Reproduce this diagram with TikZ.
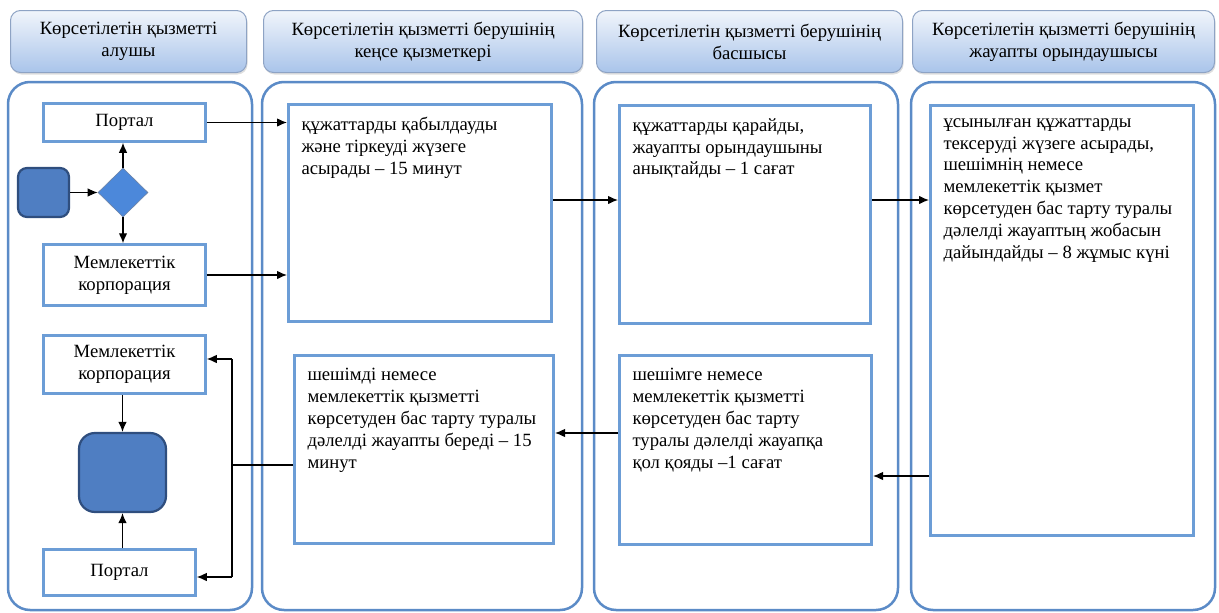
\documentclass[tikz,border=0pt]{standalone}
\usepackage{fontspec}
\setmainfont{Liberation Serif}
\usetikzlibrary{arrows.meta,shapes.geometric,shadows}
\definecolor{linea}{HTML}{5B8BC7}
\definecolor{bordo}{HTML}{6C9DD6}
\definecolor{bordotesta}{HTML}{8EA3C4}
\definecolor{alto}{HTML}{F1F5FB}
\definecolor{basso}{HTML}{A9C4EA}
\definecolor{pieno}{HTML}{4F7EC2}
\definecolor{scuro}{HTML}{2F4E7E}
\definecolor{rombo}{HTML}{4C88DA}
\begin{document}
\begin{tikzpicture}[x=1pt,y=-1pt,>={Latex[length=10pt,width=8.5pt]},
  every node/.style={font=\fontsize{18.7}{21.8}\selectfont},
  testata/.style={draw=bordotesta,line width=1pt,rounded corners=10pt,top color=alto,bottom color=basso,align=center,minimum height=62pt,inner sep=0pt,drop shadow={shadow xshift=1pt,shadow yshift=-2pt,opacity=0.25}},
  corsia/.style={draw=linea,line width=2.5pt,rounded corners=22pt},
  compito/.style={draw=bordo,line width=3pt,fill=white,inner sep=13pt},
  riquadro/.style={draw=bordo,line width=2.5pt,fill=white,align=center,inner sep=0pt},
  blocco/.style={draw=scuro,line width=2.2pt,fill=pieno},
  freccia/.style={->,line width=1.1pt}]
  \useasboundingbox (0,0) rectangle (1219,613);
  %intestazioni
  \node[testata,minimum width=236pt] (h1) at (128.5,41.5) {Көрсетілетін қызметті\\алушы};
  \node[testata,minimum width=319pt] (h2) at (423,41.5) {Көрсетілетін қызметті берушінің\\кеңсе қызметкері};
  \node[testata,minimum width=306pt] (h3) at (749.5,41.5) {Көрсетілетін қызметті берушінің\\басшысы};
  \node[testata,minimum width=302pt] (h4) at (1063.5,41.5) {Көрсетілетін қызметті берушінің\\жауапты орындаушысы};
  %corsie
  \draw[corsia] (8,82) rectangle (252,610);
  \draw[corsia] (262,82) rectangle (582,610);
  \draw[corsia] (594,82) rectangle (898,610);
  \draw[corsia] (911,82) rectangle (1215,610);
  %prima corsia
  \node[riquadro,minimum width=162pt,minimum height=38pt] (portale) at (124.5,122.5) {Портал};
  \node[blocco,rounded corners=9pt,minimum width=51pt,minimum height=49pt] (inizio) at (43.5,192.5) {};
  \node[diamond,draw=scuro!70,fill=rombo,line width=0.6pt,minimum width=50pt,minimum height=49pt,inner sep=0pt] (scelta) at (123,192.5) {};
  \node[riquadro,minimum width=162pt,minimum height=61pt] (corp) at (124.5,275) {Мемлекеттік\\корпорация};
  \node[riquadro,minimum width=162pt,minimum height=58pt] (corpb) at (124.5,364.5) {Мемлекеттік\\корпорация};
  \node[blocco,rounded corners=16pt,minimum width=87pt,minimum height=79pt] (fine) at (122.5,472.5) {};
  \node[riquadro,minimum width=152pt,minimum height=46pt] (portaleb) at (119.5,572.5) {Портал};
  %compiti
  \node[compito] (c1) at (420,213) {\parbox[c][191pt][t]{237pt}{\raggedright құжаттарды қабылдауды\\және тіркеуді жүзеге\\асырады – 15 минут}};
  \node[compito] (c2) at (745,214.5) {\parbox[c][192pt][t]{225pt}{\raggedright құжаттарды қарайды,\\жауапты орындаушыны\\анықтайды – 1 сағат}};
  \node[compito] (c3) at (1062,320.5) {\parbox[c][404pt][t]{237pt}{\raggedright ұсынылған құжаттарды\\тексеруді жүзеге асырады,\\шешімнің немесе\\мемлекеттік қызмет\\көрсетуден бас тарту туралы\\дәлелді жауаптың жобасын\\дайындайды – 8 жұмыс күні}};
  \node[compito] (c4) at (745.5,450) {\parbox[c][163pt][t]{226pt}{\raggedright шешімге немесе\\мемлекеттік қызметті\\көрсетуден бас тарту\\туралы дәлелді жауапқа\\қол қояды –1 сағат}};
  \node[compito] (c5) at (424,449.5) {\parbox[c][162pt][t]{233pt}{\raggedright шешімді немесе\\мемлекеттік қызметті\\көрсетуден бас тарту туралы\\дәлелді жауапты береді – 15\\минут}};
  %frecce
  \draw[freccia] (inizio) -- (scelta);
  \draw[freccia] (scelta.north) -- (portale.south -| scelta.north);
  \draw[freccia] (scelta.south) -- (corp.north -| scelta.south);
  \draw[freccia] (portale.east) -- (portale.east -| c1.west);
  \draw[freccia] (corp.east) -- (corp.east -| c1.west);
  \draw[freccia] (c1.east |- 0,200) -- (c2.west |- 0,200);
  \draw[freccia] (c2.east |- 0,200) -- (c3.west |- 0,200);
  \draw[freccia] (c3.west |- 0,476) -- (c4.east |- 0,476);
  \draw[freccia] (c4.west |- 0,433) -- (c5.east |- 0,433);
  \coordinate (su) at (232,359);
  \coordinate (giu) at (232,577);
  \draw[line width=1.1pt] (c5.west |- 0,465) -- (su |- 0,465);
  \draw[line width=1.1pt] (su) -- (giu);
  \draw[freccia] (su) -- (su -| corpb.east);
  \draw[freccia] (giu) -- (giu -| portaleb.east);
  \draw[freccia] (corpb.south -| fine.north) -- (fine.north);
  \draw[freccia] (portaleb.north -| fine.south) -- (fine.south);
\end{tikzpicture}
\end{document}
